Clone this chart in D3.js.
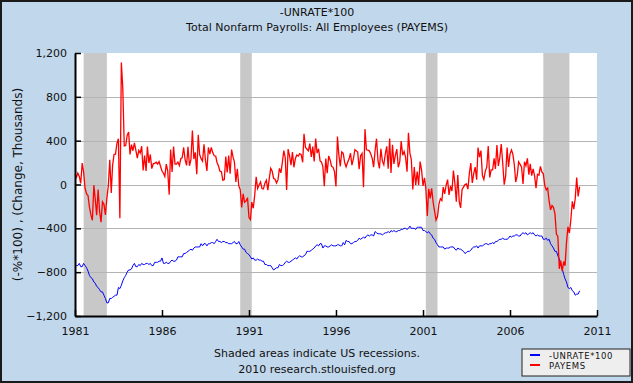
<!DOCTYPE html>
<meta charset="utf-8">
<style>
body { margin: 0; }
text { font-family: "DejaVu Sans", Verdana, sans-serif; fill: #111; }
.grid line { stroke: #b4b4b4; stroke-width: 1px; }
.line { fill: none; stroke: #0000ff; stroke-width: 1px; }
.line1 { fill: none; stroke: #ff0000; stroke-width: 1.3px; }
</style>
<body>
<script src="https://d3js.org/d3.v7.min.js"></script>
<script>

// monthly, starting Jan 1981
var startMonth = new Date(1981, 0, 1);

// civilian unemployment rate, percent (plotted as -UNRATE*100)
var unrate = [
  7.5, 7.4, 7.4, 7.2, 7.5, 7.5, 7.2, 7.4, 7.6, 7.9, 8.3, 8.5,
  8.6, 8.9, 9.0, 9.3, 9.4, 9.6, 9.8, 9.8, 10.1, 10.4, 10.8, 10.8,
  10.4, 10.4, 10.3, 10.2, 10.1, 10.1, 9.4, 9.5, 9.2, 8.8, 8.5, 8.3,
  8.0, 7.8, 7.8, 7.7, 7.4, 7.2, 7.5, 7.5, 7.3, 7.4, 7.2, 7.3,
  7.3, 7.2, 7.2, 7.3, 7.2, 7.4, 7.4, 7.1, 7.1, 7.1, 7.0, 7.0,
  6.7, 7.2, 7.2, 7.1, 7.2, 7.2, 7.0, 6.9, 7.0, 7.0, 6.9, 6.6,
  6.6, 6.6, 6.6, 6.3, 6.3, 6.2, 6.1, 6.0, 5.9, 6.0, 5.8, 5.7,
  5.7, 5.7, 5.7, 5.4, 5.6, 5.4, 5.4, 5.6, 5.4, 5.4, 5.3, 5.3,
  5.4, 5.2, 5.0, 5.2, 5.2, 5.3, 5.2, 5.2, 5.3, 5.3, 5.4, 5.4,
  5.4, 5.3, 5.2, 5.4, 5.4, 5.2, 5.5, 5.7, 5.9, 5.9, 6.2, 6.3,
  6.4, 6.6, 6.8, 6.7, 6.9, 6.9, 6.8, 6.9, 6.9, 7.0, 7.0, 7.3,
  7.3, 7.4, 7.4, 7.4, 7.6, 7.8, 7.7, 7.6, 7.6, 7.3, 7.4, 7.4,
  7.3, 7.1, 7.0, 7.1, 7.1, 7.0, 6.9, 6.8, 6.7, 6.8, 6.6, 6.5,
  6.6, 6.6, 6.5, 6.4, 6.1, 6.1, 6.1, 6.0, 5.9, 5.8, 5.6, 5.5,
  5.6, 5.4, 5.4, 5.8, 5.6, 5.6, 5.7, 5.7, 5.6, 5.5, 5.6, 5.6,
  5.6, 5.5, 5.5, 5.6, 5.6, 5.3, 5.5, 5.1, 5.2, 5.2, 5.4, 5.4,
  5.3, 5.2, 5.2, 5.1, 4.9, 5.0, 4.9, 4.8, 4.9, 4.7, 4.6, 4.7,
  4.6, 4.6, 4.7, 4.3, 4.4, 4.5, 4.5, 4.5, 4.6, 4.5, 4.4, 4.4,
  4.3, 4.4, 4.2, 4.3, 4.2, 4.3, 4.3, 4.2, 4.2, 4.1, 4.1, 4.0,
  4.0, 4.1, 4.0, 3.8, 4.0, 4.0, 4.0, 4.1, 3.9, 3.9, 3.9, 3.9,
  4.2, 4.2, 4.3, 4.4, 4.3, 4.5, 4.6, 4.9, 5.0, 5.3, 5.5, 5.7,
  5.7, 5.7, 5.7, 5.9, 5.8, 5.8, 5.8, 5.7, 5.7, 5.7, 5.9, 6.0,
  5.8, 5.9, 5.9, 6.0, 6.1, 6.3, 6.2, 6.1, 6.1, 6.0, 5.8, 5.7,
  5.7, 5.6, 5.8, 5.6, 5.6, 5.6, 5.5, 5.4, 5.4, 5.5, 5.4, 5.4,
  5.3, 5.4, 5.2, 5.2, 5.1, 5.0, 5.0, 4.9, 5.0, 5.0, 5.0, 4.9,
  4.7, 4.8, 4.7, 4.7, 4.6, 4.6, 4.7, 4.7, 4.5, 4.4, 4.5, 4.4,
  4.6, 4.5, 4.4, 4.5, 4.4, 4.6, 4.7, 4.6, 4.7, 4.7, 4.7, 5.0,
  5.0, 4.9, 5.1, 5.0, 5.4, 5.6, 5.8, 6.1, 6.1, 6.5, 6.8, 7.3,
  7.7, 8.2, 8.6, 8.9, 9.4, 9.5, 9.4, 9.7, 9.8, 10.1, 10.0, 10.0,
  9.7
];

// total nonfarm payrolls, monthly change, thousands
var payems = [
  95, 67, 104, 74, 10, 196, 112, -36, -87, -100, -209, -278,
  -327, -6, -129, -281, -45, -243, -343, -158, -181, -277, -124, -14,
  225, -78, 173, 276, 277, 378, 418, -308, 1114, 880, 352, 356,
  447, 479, 275, 363, 308, 379, 313, 241, 311, 286, 349, 128,
  265, 124, 346, 196, 274, 145, 189, 193, 203, 187, 209, 167,
  123, 103, 74, 187, 124, -94, 318, 114, 347, 186, 186, 205,
  172, 237, 244, 338, 226, 174, 345, 171, 228, 492, 232, 294,
  93, 453, 273, 236, 213, 367, 222, 124, 338, 277, 338, 291,
  262, 259, 201, 170, 121, 117, 38, 45, 254, 111, 264, 98,
  319, 249, 207, 23, 143, -13, -46, -209, -85, -162, -150, -120,
  -302, -321, -161, -217, -97, 70, -37, -4, 23, -37, -41, 12,
  39, -52, 52, 147, 123, 55, 48, 13, 44, 147, 106, 200,
  309, 242, -49, 323, 264, 177, 296, 157, 237, 269, 260, 282,
  272, 203, 462, 338, 324, 307, 373, 252, 346, 211, 420, 286,
  326, 215, 206, 163, -15, 236, 103, 261, 222, 166, 157, 118,
  -18, 438, 271, 166, 297, 285, 201, 160, 203, 232, 285, 176,
  235, 317, 308, 296, 140, 262, 283, -24, 505, 317, 313, 307,
  278, 236, 158, 310, 418, 215, 146, 325, 213, 180, 278, 349,
  144, 420, 105, 363, 188, 268, 323, 157, 209, 397, 267, 301,
  248, 117, 472, 286, 224, -46, 160, -3, 117, -4, 210, 134,
  -13, 61, -35, -287, -40, -127, -35, -160, -244, -325, -292, -178,
  -129, -147, -24, -85, -7, 45, -95, -14, -60, 127, 10, -156,
  86, -159, -213, -45, -24, -1, 6, -42, 103, 196, 14, 100,
  159, 43, 337, 249, 310, 81, 46, 122, 160, 351, 64, 133,
  134, 239, 142, 360, 170, 246, 370, 196, -2, 76, 337, 160,
  277, 315, 280, 182, 23, 80, 207, 184, 157, 4, 208, 171,
  238, 90, 189, 80, 143, 78, -33, 93, 85, 166, 115, 97,
  -10, -50, -33, -149, -231, -193, -209, -266, -452, -473, -769, -695,
  -791, -703, -741, -528, -387, -443, -321, -154, -225, -127, 64, -109,
  -20
];

// NBER recessions, peak month to trough month
var recessions = [
  ["1981-07", "1982-11"],
  ["1990-07", "1991-03"],
  ["2001-03", "2001-11"],
  ["2007-12", "2009-06"]
];

var yearTicks = [1981, 1986, 1991, 1996, 2001, 2006, 2011];
var yTicks = [-1200, -800, -400, 0, 400, 800, 1200];
var titleLines = ["-UNRATE*100", "Total Nonfarm Payrolls: All Employees (PAYEMS)"];
var noteLines = ["Shaded areas indicate US recessions.", "2010 research.stlouisfed.org"];
var legendNames = ["-UNRATE*100", "PAYEMS"];

var W = 633, H = 383;
var margin = {top: 53, right: 36, bottom: 67, left: 75},
    width = W - margin.left - margin.right,
    height = H - margin.top - margin.bottom;

var parseMonth = d3.timeParse("%Y-%m");

var x = d3.scaleTime()
    .domain([new Date(1981, 0, 1), new Date(2011, 0, 1)])
    .range([0, width]);
var y = d3.scaleLinear().domain([-1200, 1200]).range([height, 0]);

var svg0 = d3.select("body").append("svg")
    .attr("width", W)
    .attr("height", H);

// page background and frame
svg0.append("rect")
    .attr("x", 1).attr("y", 1)
    .attr("width", W - 2).attr("height", H - 2)
    .attr("fill", "#c1d7eb")
    .attr("stroke", "#1a1a1a")
    .attr("stroke-width", 2);

var svg = svg0.append("g")
    .attr("transform", "translate(" + margin.left + "," + margin.top + ")");

svg.append("rect")
    .attr("width", width).attr("height", height)
    .attr("fill", "#fff");

// recession shading
svg.selectAll(".rec")
    .data(recessions)
  .enter().append("rect")
    .attr("class", "rec")
    .attr("x", function(d) { return x(parseMonth(d[0])); })
    .attr("width", function(d) { return x(parseMonth(d[1])) - x(parseMonth(d[0])); })
    .attr("y", 0)
    .attr("height", height)
    .attr("fill", "#c8c8c8");

// gridlines
svg.append("g")
    .attr("class", "grid")
    .selectAll("line")
    .data(yTicks.filter(function(v) { return v > -1200 && v < 1200; }))
  .enter().append("line")
    .attr("x1", 0).attr("x2", width)
    .attr("y1", function(d) { return Math.round(y(d)) + 0.5; })
    .attr("y2", function(d) { return Math.round(y(d)) + 0.5; });

var blue = unrate.map(function(v, i) {
  return {date: d3.timeMonth.offset(startMonth, i), value: -v * 100};
});
var red = payems.map(function(v, i) {
  return {date: d3.timeMonth.offset(startMonth, i), value: v};
});

var valueline = d3.line()
    .x(function(d) { return x(d.date); })
    .y(function(d) { return y(d.value); });

svg.append("path")
    .data([blue])
    .attr("class", "line")
    .attr("d", valueline);

svg.append("path")
    .data([red])
    .attr("class", "line1")
    .attr("d", valueline);

// x axis
var xAxis = svg.append("g")
    .attr("transform", "translate(0," + height + ")")
    .call(d3.axisBottom(x)
        .tickValues(yearTicks.map(function(yr) { return new Date(yr, 0, 1); }))
        .tickFormat(d3.timeFormat("%Y"))
        .tickSizeInner(-6)
        .tickSizeOuter(0)
        .tickPadding(11));
xAxis.select(".domain").attr("stroke", "#000").attr("stroke-width", 2);
xAxis.selectAll(".tick line").attr("stroke", "#000").attr("stroke-width", 1.5);
xAxis.selectAll("text").style("font-size", "11px").attr("fill", "#111");

// y axis
var yAxis = svg.append("g")
    .call(d3.axisLeft(y)
        .tickValues(yTicks)
        .tickFormat(d3.format(","))
        .tickSizeInner(-6)
        .tickSizeOuter(0)
        .tickPadding(8));
yAxis.select(".domain").attr("stroke", "#000").attr("stroke-width", 2);
yAxis.selectAll(".tick line").attr("stroke", "#000").attr("stroke-width", 1.5);
yAxis.selectAll("text").style("font-size", "11px").attr("fill", "#111");

// y axis title
svg0.append("text")
    .attr("transform", "translate(22," + (margin.top + height / 2) + ") rotate(-90)")
    .attr("text-anchor", "middle")
    .style("font-size", "12px")
    .text("(-%*100) , (Change, Thousands)");

// titles
svg0.selectAll(".title")
    .data(titleLines)
  .enter().append("text")
    .attr("class", "title")
    .attr("x", 317)
    .attr("y", function(d, i) { return 16 + i * 15; })
    .attr("text-anchor", "middle")
    .style("font-size", "11px")
    .text(function(d) { return d; });

// notes under the chart
svg0.selectAll(".note")
    .data(noteLines)
  .enter().append("text")
    .attr("class", "note")
    .attr("x", 317)
    .attr("y", function(d, i) { return 357 + i * 16; })
    .attr("text-anchor", "middle")
    .style("font-size", "11px")
    .text(function(d) { return d; });

// legend
var legend = svg0.append("g").attr("transform", "translate(522,349)");
legend.append("rect")
    .attr("width", 108).attr("height", 27)
    .attr("fill", "#eeeeee")
    .attr("stroke", "#222")
    .attr("stroke-width", 1);
var legendColors = ["#0000ff", "#ff0000"];
legendNames.forEach(function(name, i) {
  legend.append("line")
      .attr("x1", 8).attr("x2", 18)
      .attr("y1", 6 + i * 10).attr("y2", 6 + i * 10)
      .attr("stroke", legendColors[i])
      .attr("stroke-width", 2);
  legend.append("text")
      .attr("x", 27).attr("y", 9.5 + i * 10)
      .style("font-size", "8.5px")
      .style("letter-spacing", "0.6px")
      .text(name);
});

</script>
</body>
